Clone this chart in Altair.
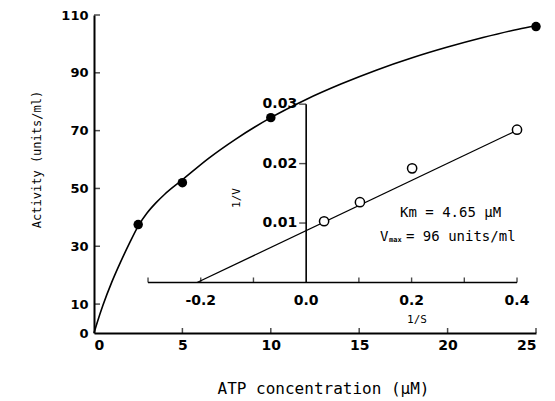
import altair as alt
import pandas as pd

# ---- main plot (Michaelis-Menten) ----
atp = [2.5, 5, 10, 25]
activity = [37.5, 52, 74.5, 106]
curve_x = [0, 0.2, 0.5, 1, 1.5, 2, 2.5, 3, 3.5, 4, 5, 6.5, 8, 10, 12, 14, 16, 18, 20, 22, 24, 25]
curve_y = [0, 4, 9.5, 17.5, 24.5, 31, 37, 41.5, 45, 48, 53, 60.5, 67, 74.5, 80.8, 86.2, 91, 95.2, 98.9, 102.2, 105.1, 106.3]
x_ticks = [0, 5, 10, 15, 20, 25]
y_ticks = [0, 10, 30, 50, 70, 90, 110]

# ---- inset (Lineweaver-Burk) ----
inv_s = [0.034, 0.102, 0.201, 0.40]
inv_v = [0.0103, 0.0135, 0.0192, 0.0257]
fit_x = [-0.207, 0.40]
fit_y = [0.0, 0.0256]
in_x_ticks = [-0.3, -0.2, -0.1, 0.1, 0.2, 0.3, 0.4]
in_x_labels = [-0.2, 0.0, 0.2, 0.4]
in_x_text = ["-0.2", "0.0", "0.2", "0.4"]
in_y_ticks = [0.01, 0.02, 0.03]
in_y_text = ["0.01", "0.02", "0.03"]

MONO = "DejaVu Sans Mono"
BOLD = "DejaVu Sans"

xs = alt.Scale(domain=[0, 25], nice=False, zero=False)
ys = alt.Scale(domain=[0, 110], nice=False, zero=False)
xi = alt.Scale(domain=[-0.4025, 0.436], nice=False, zero=False)
yi = alt.Scale(domain=[-0.0085, 0.045], nice=False, zero=False)


def IX(field=None, datum=None):
    if datum is not None:
        return alt.XDatum(datum, scale=xi, axis=None)
    return alt.X(field, scale=xi, axis=None)


def IY(field=None, datum=None):
    if datum is not None:
        return alt.YDatum(datum, scale=yi, axis=None)
    return alt.Y(field, scale=yi, axis=None)


curve_df = pd.DataFrame({"x": curve_x, "y": curve_y})
pts_df = pd.DataFrame({"x": atp, "y": activity})

base_axes = alt.Chart(pts_df).mark_point(opacity=0).encode(
    x=alt.X("x:Q", scale=xs, axis=alt.Axis(
        values=x_ticks, title="ATP concentration (μM)", grid=False, tickSize=0,
        labelPadding=5, labelFont=BOLD, labelFontWeight="bold", labelFontSize=14,
        labelColor="black", domainColor="black", domainWidth=2,
        titleFont=MONO, titleFontSize=16, titleFontWeight="normal", titleColor="black",
        titleX=229, titleY=55, titleBaseline="middle", titleAnchor="start", titleAlign="center")),
    y=alt.Y("y:Q", scale=ys, axis=alt.Axis(
        values=y_ticks, title="Activity (units/ml)", grid=False, tickSize=0,
        labelPadding=6, labelFont=BOLD, labelFontWeight="bold", labelFontSize=13,
        labelColor="black", domainColor="black", domainWidth=2,
        titleFont=MONO, titleFontSize=12, titleFontWeight="normal", titleColor="black",
        titleX=-58, titleY=144, titleAngle=270, titleBaseline="middle", titleAlign="center")),
)

curve = alt.Chart(curve_df).mark_line(color="black", strokeWidth=1.6, interpolate="monotone").encode(
    x=alt.X("x:Q", scale=xs), y=alt.Y("y:Q", scale=ys))
pts = alt.Chart(pts_df).mark_circle(color="black", size=90, opacity=1).encode(
    x=alt.X("x:Q", scale=xs), y=alt.Y("y:Q", scale=ys))

xt_df = pd.DataFrame({"x": x_ticks[1:]})
yt_df = pd.DataFrame({"y": y_ticks[1:]})
main_xt = alt.Chart(xt_df).mark_tick(orient="vertical", size=5, thickness=1.5, yOffset=-2.5, color="black").encode(
    x=alt.X("x:Q", scale=xs), y=alt.YDatum(0, scale=ys))
main_yt = alt.Chart(yt_df).mark_tick(orient="horizontal", size=6, thickness=1.5, xOffset=3, color="black").encode(
    y=alt.Y("y:Q", scale=ys), x=alt.XDatum(0, scale=xs))

main = alt.layer(base_axes, curve, pts, main_xt, main_yt)

# inset layers
inv_df = pd.DataFrame({"x": inv_s, "y": inv_v})
fit_df = pd.DataFrame({"x": fit_x, "y": fit_y})
one = pd.DataFrame({"a": [0]})

in_hline = alt.Chart(one).mark_rule(color="black", strokeWidth=1.6).encode(
    x=IX(datum=in_x_ticks[0]), x2=alt.X2Datum(in_x_ticks[-1]), y=IY(datum=0))
in_vline = alt.Chart(one).mark_rule(color="black", strokeWidth=1.6).encode(
    x=IX(datum=0), y=IY(datum=0), y2=alt.Y2Datum(in_y_ticks[-1]))
in_xt = alt.Chart(pd.DataFrame({"x": in_x_ticks})).mark_tick(
    orient="vertical", size=5, thickness=1.4, yOffset=-2.5, color="black").encode(
    x=IX("x:Q"), y=IY(datum=0))
in_yt = alt.Chart(pd.DataFrame({"y": in_y_ticks})).mark_tick(
    orient="horizontal", size=7, thickness=1.4, xOffset=-3.5, color="black").encode(
    y=IY("y:Q"), x=IX(datum=0))
in_xl = alt.Chart(pd.DataFrame({"x": in_x_labels, "t": in_x_text})).mark_text(
    font=BOLD, fontWeight="bold", fontSize=14, dy=19, baseline="middle", align="center", color="black").encode(
    x=IX("x:Q"), y=IY(datum=0), text="t:N")
in_yl = alt.Chart(pd.DataFrame({"y": in_y_ticks, "t": in_y_text})).mark_text(
    font=BOLD, fontWeight="bold", fontSize=14, dx=-9, baseline="middle", align="right", color="black").encode(
    y=IY("y:Q"), x=IX(datum=0), text="t:N")
fit = alt.Chart(fit_df).mark_line(color="black", strokeWidth=1.3).encode(
    x=IX("x:Q"), y=IY("y:Q"))
inv_pts = alt.Chart(inv_df).mark_point(shape="circle", filled=True, fill="white", stroke="black",
                                        strokeWidth=1.5, size=85, opacity=1).encode(
    x=IX("x:Q"), y=IY("y:Q"))

lab_s = alt.Chart(one).mark_text(text="1/S", font=MONO, fontSize=11, color="black").encode(
    x=alt.value(323), y=alt.value(305))
lab_v = alt.Chart(one).mark_text(text="1/V", font=MONO, fontSize=11, angle=270, color="black").encode(
    x=alt.value(143), y=alt.value(183))
km = alt.Chart(one).mark_text(text="Km = 4.65 μM", font=MONO, fontSize=14, align="left",
                              baseline="middle", color="black").encode(
    x=alt.value(306), y=alt.value(198))
v1 = alt.Chart(one).mark_text(text="V", font=MONO, fontSize=14, align="left",
                              baseline="middle", color="black").encode(
    x=alt.value(286), y=alt.value(222))
v2 = alt.Chart(one).mark_text(text="max", font=MONO, fontSize=7, fontWeight="bold", align="left",
                              baseline="middle", color="black").encode(
    x=alt.value(295), y=alt.value(225))
v3 = alt.Chart(one).mark_text(text="= 96 units/ml", font=MONO, fontSize=14, align="left",
                              baseline="middle", color="black").encode(
    x=alt.value(312), y=alt.value(222))

inset = alt.layer(in_hline, in_vline, in_xt, in_yt, in_xl, in_yl, fit, inv_pts,
                  lab_s, lab_v, km, v1, v2, v3)

chart = alt.layer(main, inset).resolve_scale(x="independent", y="independent").properties(
    width=442, height=318,
    autosize=alt.AutoSizeParams(type="none"),
    padding={"left": 86, "top": 7, "right": 10, "bottom": 65},
    background="white",
).configure_view(stroke=None)

chart.save("out.html", embed_options={"renderer": "svg", "actions": False})
